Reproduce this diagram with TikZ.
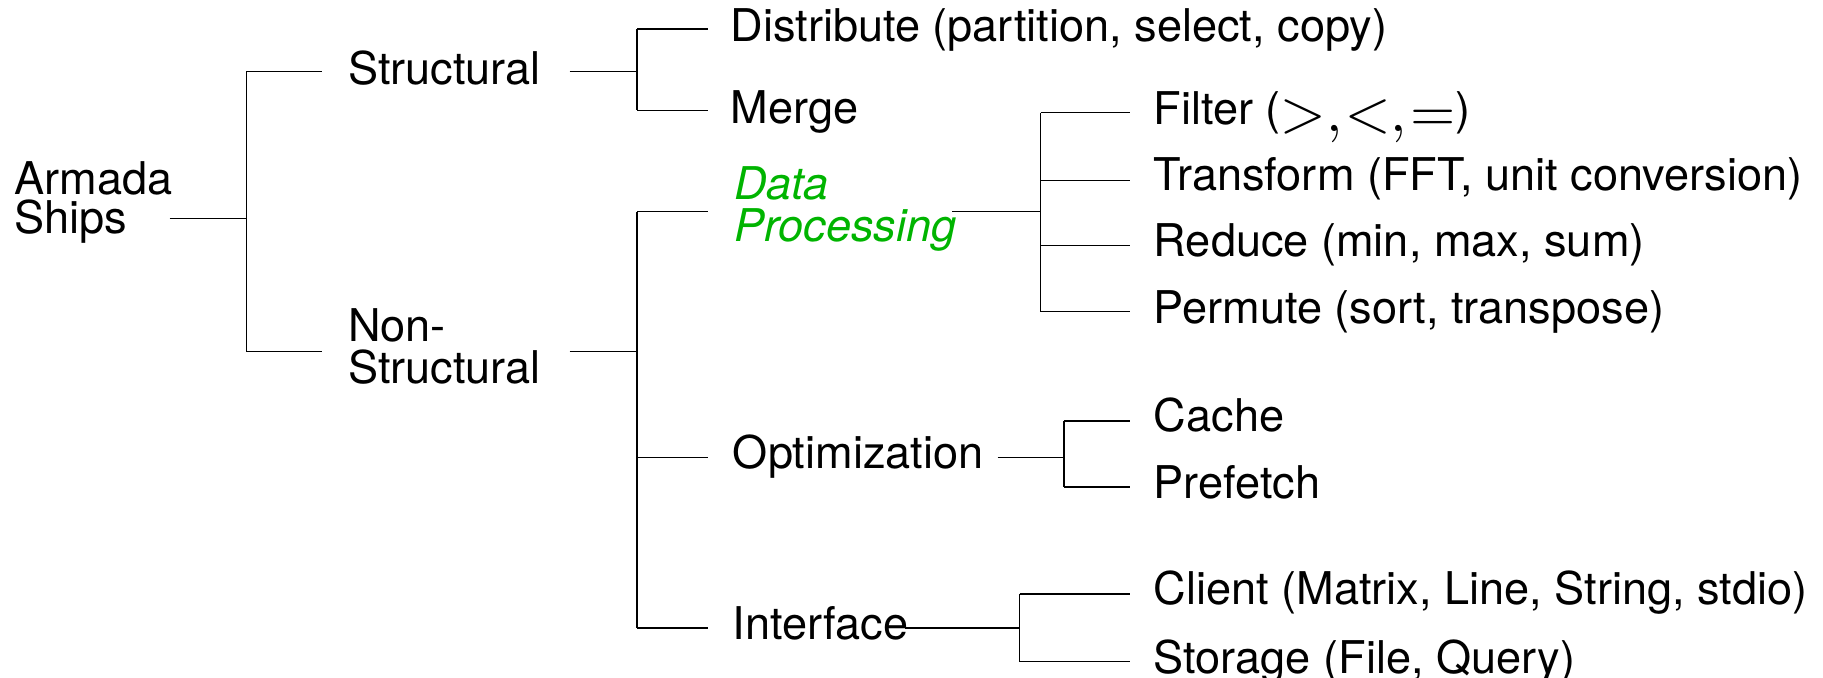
\documentclass[tikz,border=0pt]{standalone}
\usepackage{fontspec}
\setmainfont{TeX Gyre Heros}
\usepackage{unicode-math}
\setmathfont{Latin Modern Math}
\definecolor{dpgreen}{RGB}{0,180,0}
\newcommand{\relsyms}{\raisebox{-3.2pt}{\fontsize{25}{25}\selectfont${>}{,}\mkern1mu{<}{,}\mkern1mu{=}$}}
\begin{document}
\begin{tikzpicture}[x=0.5pt,y=-0.5pt,
  lbl/.style={anchor=base west,inner sep=0pt,font=\fontsize{19.4}{17.5}\selectfont},
  link/.style={line width=0.6pt,black},
  dp/.style={lbl,text=dpgreen,font=\fontsize{19.4}{17.5}\selectfont\itshape}]
\useasboundingbox (0,0) rectangle (1568,583);
% texts
\node[lbl] (armada) at (12,167) {Armada};
\node[lbl] (ships) at (12,201) {Ships};
\node[lbl] (struct) at (299,73) {Structural};
\node[lbl] (non) at (299,294) {Non-};
\node[lbl] (nonstruct) at (299,330) {Structural};
\node[lbl] (distr) at (628,36) {Distribute (partition, select, copy)};
\node[lbl] (merge) at (628,106) {Merge};
\node[dp] (data) at (631,172) {Data};
\node[dp] (proc) at (631,208) {Processing};
\node[lbl] (optim) at (630,403) {Optimization};
\node[lbl] (iface) at (630,550) {Interface};
\node[lbl] (filter) at (992,107) {Filter (\relsyms)};
\node[lbl] (transf) at (992,164) {Transform (FFT, unit conversion)};
\node[lbl] (reduce) at (992,221) {Reduce (min, max, sum)};
\node[lbl] (permute) at (992,278) {Permute (sort, transpose)};
\node[lbl] (cache) at (992,371) {Cache};
\node[lbl] (prefetch) at (992,429) {Prefetch};
\node[lbl] (client) at (992,520) {Client (Matrix, Line, String, stdio)};
\node[lbl] (storage) at (992,579) {Storage (File, Query)};
% junction coordinates
\coordinate (r0) at (146,188);
\coordinate (r1) at (212,188);
\coordinate (s0) at (490,61.5);
\coordinate (s1) at (548,61.5);
\coordinate (n0) at (490,302.5);
\coordinate (n1) at (548,302.5);
\coordinate (d0) at (819,182);
\coordinate (d1) at (895,182);
\coordinate (o0) at (858,393.5);
\coordinate (o1) at (915,393.5);
\coordinate (i0) at (778,540);
\coordinate (i1) at (877,540);
% root
\draw[link] (r0) -- (r1);
\draw[link] (212,62) -- (212,302);
\draw[link] (212,61.5) -- (277,61.5);
\draw[link] (212,302.5) -- (277,302.5);
% structural
\draw[link] (s0) -- (s1);
\draw[link] (548,25) -- (548,95);
\draw[link] (548,25) -- (609,25);
\draw[link] (548,95) -- (609,95);
% non-structural
\draw[link] (n0) -- (n1);
\draw[link] (548,182) -- (548,540);
\draw[link] (548,182) -- (609,182);
\draw[link] (548,393.5) -- (609,393.5);
\draw[link] (548,540) -- (609,540);
% data processing
\draw[link] (d0) -- (d1);
\draw[link] (895,97) -- (895,268);
\draw[link] (895,97) -- (972,97);
\draw[link] (895,155) -- (972,155);
\draw[link] (895,211) -- (972,211);
\draw[link] (895,268) -- (972,268);
% optimization
\draw[link] (o0) -- (o1);
\draw[link] (915,362) -- (915,419);
\draw[link] (915,362) -- (972,362);
\draw[link] (915,419) -- (972,419);
% interface
\draw[link] (i0) -- (i1);
\draw[link] (877,511) -- (877,569);
\draw[link] (877,511) -- (972,511);
\draw[link] (877,569) -- (972,569);
\end{tikzpicture}
\end{document}
